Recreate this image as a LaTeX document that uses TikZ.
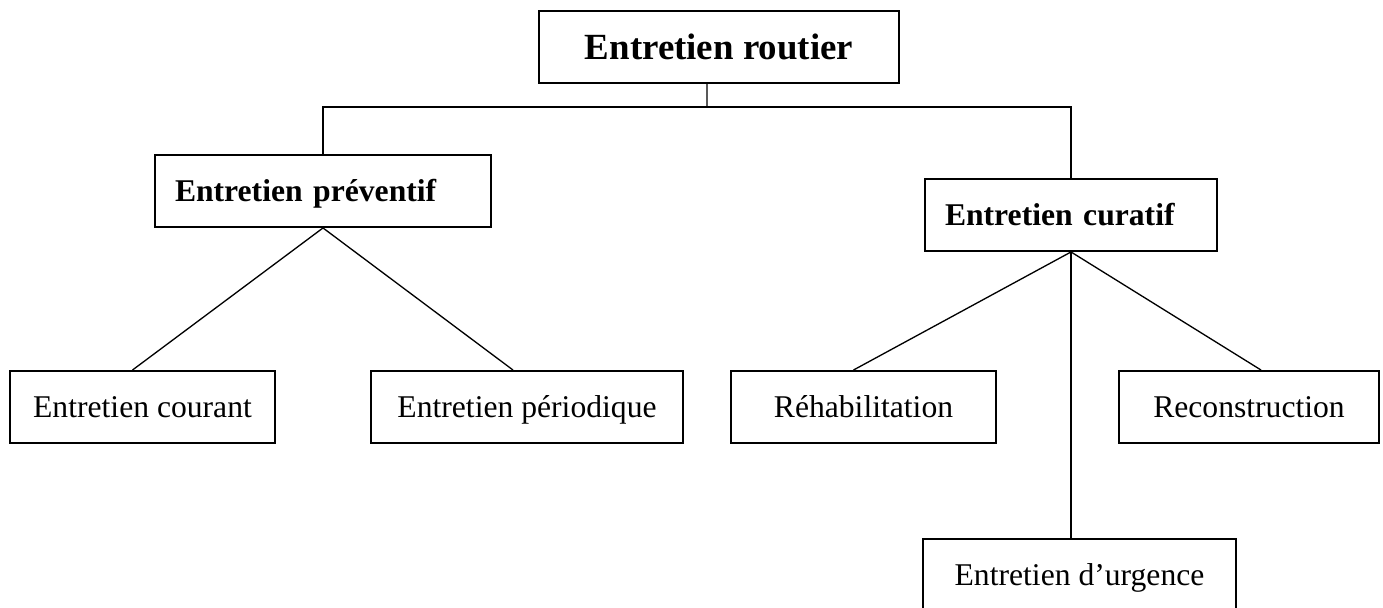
\documentclass[tikz,border=0pt]{standalone}
\usepackage{fontspec}
\setmainfont{Liberation Serif}

\begin{document}
\begin{tikzpicture}[
		boite/.style={draw, line width=1.1pt, minimum height=1.44cm, inner sep=0pt, text height=16pt, text depth=4pt, font=\fontsize{18}{22}\selectfont},
		titre/.style={boite, text height=17pt, text depth=3pt, font=\fontsize{21}{25}\selectfont\bfseries},
		branche/.style={boite, align=left, inner xsep=0.4cm, font=\fontsize{18}{22}\selectfont\bfseries},
		lien/.style={line width=0.75pt}]
		\useasboundingbox (0,0) rectangle (27.66,12.16);
		% niveau 1
		\node[titre, minimum width=7.2cm] (routier) at (14.38,11.22) {Entretien routier};
		% niveau 2
		\node[branche, text width=5.92cm] (preventif) at (6.46,8.34) {Entretien préventif};
		\node[branche, text width=5.04cm] (curatif) at (21.42,7.86) {Entretien curatif};
		% niveau 3
		\node[boite, minimum width=5.3cm] (courant) at (2.85,4.02) {Entretien courant};
		\node[boite, minimum width=6.25cm] (periodique) at (10.54,4.02) {Entretien périodique};
		\node[boite, minimum width=5.3cm] (rehab) at (17.27,4.02) {Réhabilitation};
		\node[boite, minimum width=5.2cm] (recon) at (24.98,4.02) {Reconstruction};
		\node[boite, minimum width=6.26cm] (urgence) at (21.59,0.66) {Entretien d’urgence};
		% liaisons
		\coordinate (jonction) at (14.14,10.02);
		\draw[lien] ([xshift=-0.24cm]routier.south) -- (jonction);
		\draw[lien] (preventif.north) |- (jonction) -| (curatif.north);
		\draw[lien] ([xshift=-0.2cm]courant.north) -- (preventif.south) -- ([xshift=-0.28cm]periodique.north);
		\draw[lien] ([xshift=-0.2cm]rehab.north) -- (curatif.south) -- ([xshift=0.24cm]recon.north);
		\draw[lien] (curatif.south) -- (curatif.south |- urgence.north);
	\end{tikzpicture}
\end{document}
